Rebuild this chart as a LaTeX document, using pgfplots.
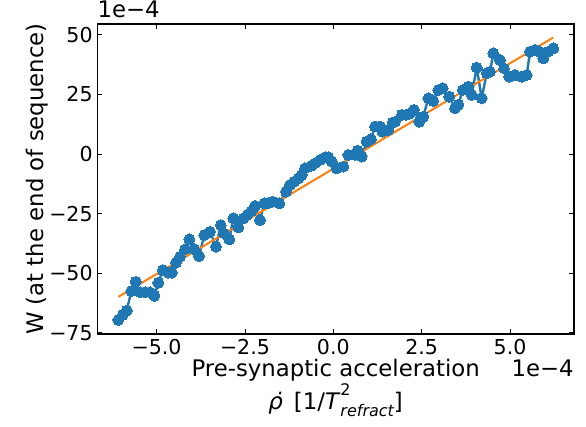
\documentclass[border=0pt]{standalone}
\usepackage{fontspec}
\setmainfont{DejaVu Sans}
\usepackage{pgfplots}
\pgfplotsset{compat=1.18}
\definecolor{mblue}{HTML}{1F77B4}
\definecolor{morange}{HTML}{FF7F0E}
\newcommand{\fs}{\fontsize{15.4}{18}\selectfont}
\newcommand{\fl}{\fontsize{17.1}{20}\selectfont}
\newcommand{\fsub}{\fontsize{12}{14}\selectfont}
\begin{document}
\begin{tikzpicture}
\useasboundingbox (-73pt,-69.75pt) rectangle (366.5pt,250.5pt);
\begin{axis}[
  at={(0,0)}, anchor=south west, scale only axis,
  width=357.5pt, height=232.5pt,
  xmin=-6.676, xmax=6.809, ymin=-75.5, ymax=54.5,
  xtick={-5,-2.5,0,2.5,5},
  xticklabels={−5.0,−2.5,0.0,2.5,5.0},
  ytick={-75,-50,-25,0,25,50},
  yticklabels={−75,−50,−25,0,25,50},
  tick align=inside,
  xtick pos=both, ytick pos=both,
  major tick length=3.75pt,
  every tick/.style={black, line width=0.6pt},
  axis line style={black, line width=0.8pt},
  tick label style={font=\fs},
  xticklabel style={yshift=-2.4pt, inner sep=1pt},
  clip=false,
]
\addplot[mblue, line width=1.8pt, mark=*, mark size=4.1pt, mark options={fill=mblue, draw=mblue, line width=0pt}] coordinates {
(-6.082,-69.6) (-5.958,-67.5) (-5.844,-65.7) (-5.714,-57.5) (-5.590,-53.6)
(-5.468,-58.0) (-5.327,-58.0) (-5.185,-58.0) (-5.064,-59.5) (-4.950,-54.0)
(-4.826,-48.7) (-4.668,-49.8) (-4.571,-49.8) (-4.450,-45.6) (-4.337,-43.1)
(-4.195,-40.0) (-4.074,-35.8) (-3.932,-40.0) (-3.799,-42.8) (-3.649,-34.0)
(-3.488,-32.6) (-3.318,-38.9) (-3.185,-29.8) (-3.092,-33.3) (-2.942,-35.8)
(-2.829,-27.0) (-2.687,-30.8) (-2.546,-27.0) (-2.433,-25.6) (-2.322,-24.0)
(-2.215,-21.8) (-2.074,-27.7) (-1.952,-20.7) (-1.833,-20.5) (-1.714,-20.0)
(-1.528,-20.7) (-1.338,-15.8) (-1.225,-13.0) (-1.103,-11.6) (-0.990,-10.2)
(-0.894,-8.8) (-0.801,-6.0) (-0.631,-5.0) (-0.518,-3.9) (-0.376,-2.5)
(-0.235,-1.4) (-0.141,-1.4) (-0.045,-3.2) (0.096,-6.0) (0.283,-5.3)
(0.424,-0.4) (0.614,-0.4) (0.690,1.4) (0.803,-1.1) (0.945,5.2)
(1.066,6.2) (1.180,11.5) (1.321,11.5) (1.386,9.4) (1.556,10.1)
(1.680,13.1) (1.745,13.5) (1.935,16.4) (2.057,16.4) (2.170,17.0)
(2.283,18.5) (2.433,13.5) (2.546,15.6) (2.687,23.4) (2.829,22.2)
(2.970,26.8) (3.095,27.6) (3.281,24.0) (3.443,19.2) (3.536,20.6)
(3.661,26.8) (3.819,28.2) (3.915,24.7) (4.057,36.2) (4.198,23.4)
(4.340,33.9) (4.433,34.5) (4.526,42.2) (4.716,39.4) (4.829,35.9)
(4.979,32.4) (5.140,33.1) (5.330,32.4) (5.471,33.1) (5.564,42.9)
(5.706,43.6) (5.819,43.0) (5.941,40.1) (6.082,42.9) (6.223,44.3)
};
\addplot[morange, line width=1.5pt] coordinates {(-6.08,-59.9) (6.22,48.8)};
\node[anchor=base west, font=\fl, inner sep=0pt] at ([yshift=4.5pt]rel axis cs:0,1) {1e−4};
\node[anchor=base east, font=\fl, inner sep=0pt] at ([yshift=-32pt]rel axis cs:1,0) {1e−4};
\node[anchor=base, font=\fl, inner sep=0pt] at ([yshift=-32pt]rel axis cs:0.5,0) {Pre-synaptic acceleration};
\node[anchor=base, font=\fl, inner sep=0pt] at ([yshift=-56.5pt]rel axis cs:0.5,0) {\textit{ρ̇}\, [1/\textit{T}\rlap{\raisebox{0.6em}{\fsub 2}}\raisebox{-0.3em}{\fsub\itshape refract}]};
\node[anchor=base, rotate=90, font=\fl, inner sep=0pt] at ([xshift=-40pt]rel axis cs:0,0.5) {W (at the end of sequence)};
\end{axis}
\end{tikzpicture}
\end{document}
